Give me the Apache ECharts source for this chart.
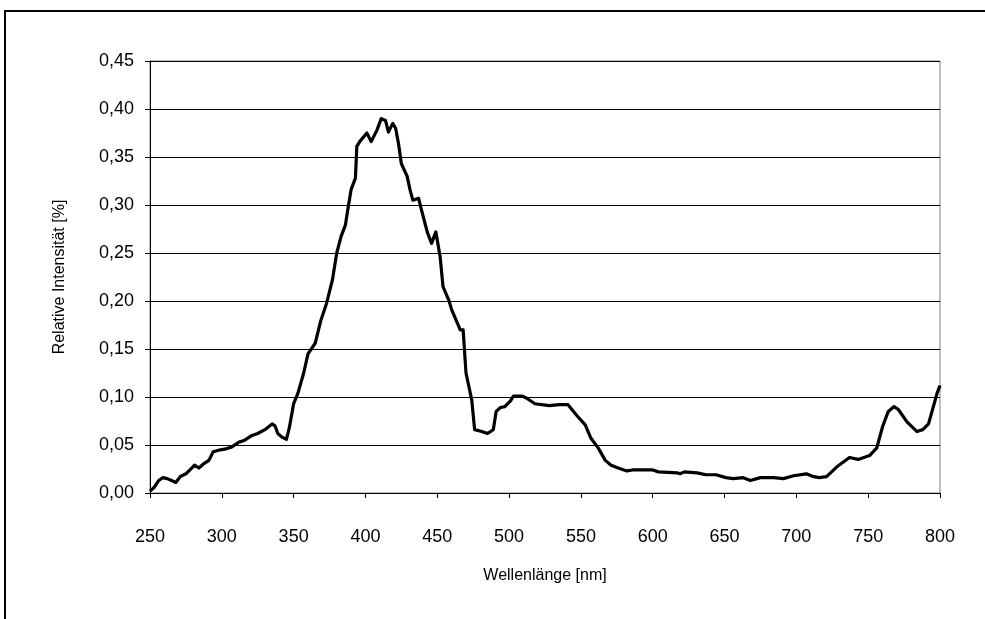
<!DOCTYPE html>
<html>
<head>
<meta charset="utf-8">
<title>Relative Intensität</title>
<script src="https://cdn.jsdelivr.net/npm/echarts@6/dist/echarts.min.js"></script>
<style>
  html, body { margin: 0; padding: 0; background: #fff; }
  #chart { width: 985px; height: 619px; }
</style>
</head>
<body>
<div id="chart"></div>
<script>
// Spectrum: wavelength in nm and relative intensity
const wavelengths = [
  250, 253, 256, 259, 262, 265, 268, 271, 275, 279, 281, 284, 287, 291, 294, 299,
  303, 307, 312, 316, 321, 325, 330, 335, 337, 339, 342, 345, 347, 350, 353, 357,
  360, 365, 369, 373, 377, 380, 383, 386, 388, 390, 393, 394, 396, 401, 404, 408,
  411, 414, 416, 419, 421, 423, 425, 429, 431, 433, 437, 439, 443, 446, 449, 452,
  454, 458, 460, 464, 466, 468, 470, 474, 476, 481, 485, 489, 491, 494, 497, 501,
  503, 509, 512, 518, 528, 535, 541, 547, 553, 557, 562, 567, 571, 576, 582, 586,
  600, 604, 617, 619, 622, 631, 637, 644, 651, 656, 663, 668, 675, 684, 691, 698,
  707, 712, 716, 721, 728, 737, 743, 751, 756, 760, 764, 768, 771, 777, 784, 788,
  792, 795, 798, 800
];
const intensities = [
  0.002, 0.006, 0.013, 0.016, 0.015, 0.013, 0.011, 0.017, 0.020, 0.026, 0.029, 0.026, 0.030, 0.034, 0.043, 0.045,
  0.046, 0.048, 0.053, 0.055, 0.060, 0.062, 0.066, 0.072, 0.070, 0.062, 0.058, 0.056, 0.068, 0.093, 0.104, 0.125,
  0.145, 0.156, 0.180, 0.198, 0.222, 0.250, 0.267, 0.279, 0.298, 0.316, 0.328, 0.361, 0.366, 0.375, 0.366, 0.378,
  0.390, 0.388, 0.376, 0.385, 0.380, 0.364, 0.343, 0.330, 0.316, 0.305, 0.307, 0.295, 0.272, 0.260, 0.272, 0.246,
  0.215, 0.201, 0.191, 0.177, 0.170, 0.170, 0.125, 0.097, 0.066, 0.064, 0.062, 0.066, 0.085, 0.089, 0.090, 0.096,
  0.101, 0.101, 0.099, 0.093, 0.091, 0.092, 0.092, 0.081, 0.071, 0.057, 0.047, 0.034, 0.029, 0.026, 0.023, 0.024,
  0.024, 0.022, 0.021, 0.020, 0.022, 0.021, 0.019, 0.019, 0.016, 0.015, 0.016, 0.013, 0.016, 0.016, 0.015, 0.018,
  0.020, 0.017, 0.016, 0.017, 0.027, 0.037, 0.035, 0.039, 0.047, 0.069, 0.085, 0.090, 0.087, 0.074, 0.064, 0.066,
  0.072, 0.088, 0.104, 0.112
];

const xTitle = 'Wellenlänge [nm]';
const yTitle = 'Relative Intensität [%]';

const seriesData = wavelengths.map((w, i) => [w, intensities[i]]);
const font = '"Liberation Sans", Arial, sans-serif';

const chart = echarts.init(document.getElementById('chart'), null, { renderer: 'canvas' });
chart.setOption({
  animation: false,
  backgroundColor: '#fff',
  graphic: [{
    type: 'rect',
    z: 0,
    silent: true,
    shape: { x: 5, y: 11, width: 1000, height: 700 },
    style: { fill: 'none', stroke: '#000', lineWidth: 2 }
  }],
  grid: {
    left: 150, right: 45, top: 61, bottom: 126,
    show: true, borderColor: '#808080', borderWidth: 1, backgroundColor: 'transparent'
  },
  xAxis: {
    type: 'value',
    min: 250, max: 800, interval: 50,
    name: xTitle,
    nameLocation: 'middle',
    nameGap: 75,
    nameTextStyle: { fontFamily: font, fontSize: 16, color: '#000' },
    axisLine: { show: true, lineStyle: { color: '#000', width: 1 } },
    axisTick: { show: true, length: 5, lineStyle: { color: '#000' } },
    axisLabel: { fontFamily: font, fontSize: 18, color: '#000', margin: 35 },
    splitLine: { show: false }
  },
  yAxis: {
    type: 'value',
    min: 0, max: 0.45, interval: 0.05,
    name: yTitle,
    nameLocation: 'middle',
    nameGap: 82,
    nameRotate: 90,
    nameTextStyle: { fontFamily: font, fontSize: 16, color: '#000' },
    axisLine: { show: true, lineStyle: { color: '#000', width: 1 } },
    axisTick: { show: true, length: 5, lineStyle: { color: '#000' } },
    axisLabel: {
      fontFamily: font, fontSize: 18, color: '#000', margin: 16,
      formatter: v => v.toFixed(2).replace('.', ',')
    },
    splitLine: { show: true, lineStyle: { color: '#000', width: 1 } }
  },
  series: [{
    type: 'line',
    data: seriesData,
    showSymbol: false,
    symbol: 'none',
    smooth: false,
    lineStyle: { color: '#000', width: 3.2, join: 'round' },
    z: 5
  }]
});
</script>
</body>
</html>
